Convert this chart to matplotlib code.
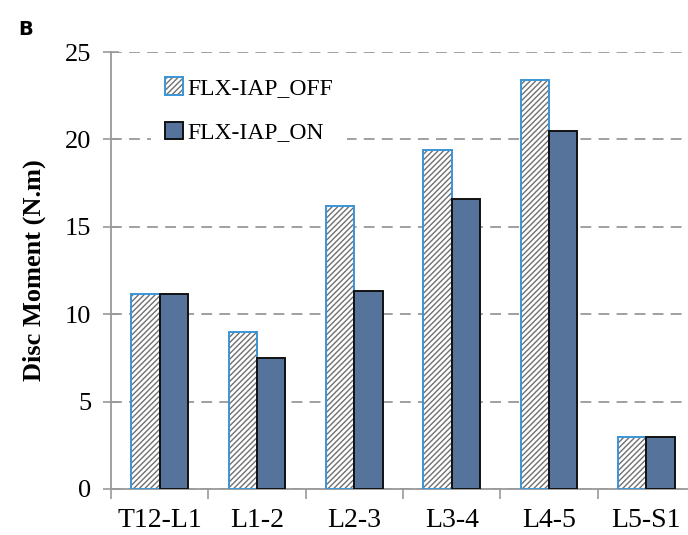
import matplotlib
matplotlib.use("Agg")
import matplotlib.pyplot as plt
import numpy as np

segments = ["T12-L1", "L1-2", "L2-3", "L3-4", "L4-5", "L5-S1"]
moment_off = [11.15, 9.0, 16.2, 19.4, 23.4, 3.0]
moment_on = [11.15, 7.5, 11.3, 16.6, 20.5, 3.0]
series_names = ["FLX-IAP_OFF", "FLX-IAP_ON"]

plt.rcParams['hatch.linewidth'] = 1.0

fig = plt.figure(figsize=(6.88, 5.35), dpi=100)
ax = fig.add_axes([0.1613, 0.086, 0.849, 0.8168])

x = np.arange(len(segments))
w = 0.29
serif = "Liberation Serif"

# hatched bars: gray hatch first, then blue outline on top
off_fill = ax.bar(x - w / 2, moment_off, w, color="white", edgecolor="#707070",
                  hatch="//////", linewidth=0, zorder=3)
off_edge = ax.bar(x - w / 2, moment_off, w, fill=False, edgecolor="#3a95d6",
                  linewidth=1.4, zorder=4)
on_bars = ax.bar(x + w / 2, moment_on, w, color="#56739c", edgecolor="#111111",
                 linewidth=1.4, zorder=4)

ax.set_ylim(0, 25)
ax.set_xlim(-0.5, 5.5)
ax.set_yticks([0, 5, 10, 15, 20, 25])
ax.yaxis.grid(True, linestyle=(0, (6, 4)), color="#999999", linewidth=1.3, zorder=0)
ax.set_axisbelow(True)

ax.set_xticks(x)
ax.set_xticklabels(segments, fontfamily=serif, fontsize=20)
ax.set_xticks(np.arange(-0.5, 6, 1), minor=True)
ax.tick_params(axis="x", which="major", length=0, pad=14)
ax.tick_params(axis="x", which="minor", length=7, color="#999999", width=1.2)
ax.tick_params(axis="y", direction="inout", length=12, color="#999999", width=1.2,
               pad=8)
for lab in ax.get_yticklabels():
    lab.set_fontfamily(serif)
    lab.set_fontsize(19)

for s in ["top", "right"]:
    ax.spines[s].set_visible(False)
for s in ["left", "bottom"]:
    ax.spines[s].set_color("#999999")
    ax.spines[s].set_linewidth(1.3)

ax.set_ylabel("Disc Moment (N.m)", fontfamily=serif, fontsize=19,
              fontweight="bold", labelpad=14)

leg = ax.legend([(off_fill[0], off_edge[0]), on_bars[0]], series_names,
                loc="upper left", bbox_to_anchor=(0.202, 0.904),
                bbox_transform=fig.transFigure, frameon=True,
                prop={"family": serif, "size": 17}, handlelength=0.75,
                handleheight=0.75, handletextpad=0.2, labelspacing=0.95,
                borderpad=0.6, fancybox=False)
leg.get_frame().set_facecolor("white")
leg.get_frame().set_edgecolor("none")
leg.get_frame().set_alpha(1.0)

fig.text(0.026, 0.944, "B", fontsize=14, fontweight="bold", ha="left", va="center")

fig.savefig("out.png", dpi=100)
